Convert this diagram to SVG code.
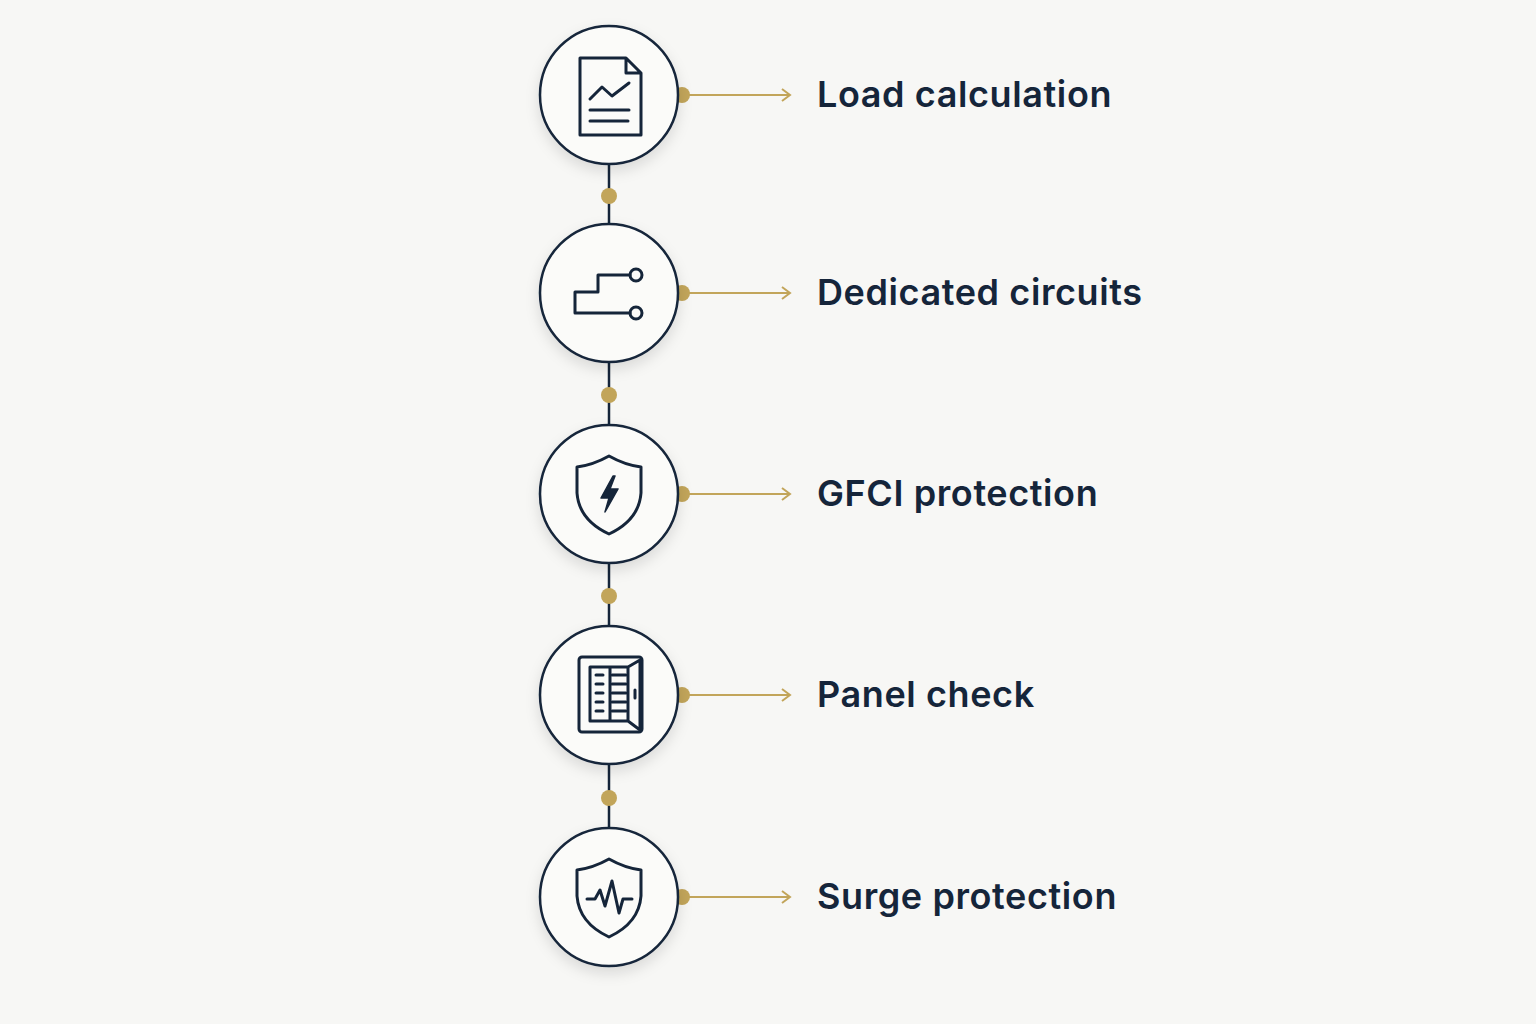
<svg xmlns="http://www.w3.org/2000/svg" width="1536" height="1024" viewBox="0 0 1536 1024">
<defs>
<filter id="sh" x="-30%" y="-30%" width="160%" height="170%"><feDropShadow dx="0" dy="6" stdDeviation="7" flood-color="#000" flood-opacity="0.12"/></filter>
<marker id="ar" markerWidth="12" markerHeight="14" refX="10" refY="7" orient="auto" markerUnits="userSpaceOnUse"><path d="M2,1 L10,7 L2,13" fill="none" stroke="#c2a55a" stroke-width="2"/></marker>
</defs>
<style>
.ring{fill:#fbfbf9;stroke:#15253a;stroke-width:2.5}
.ic{fill:none;stroke:#15253a;stroke-width:3;stroke-linejoin:round;stroke-linecap:round}
.vl{stroke:#15253a;stroke-width:2.5}
.dot{fill:#c2a55a}
.ar{stroke:#c2a55a;stroke-width:2;marker-end:url(#ar)}
.lb{font-family:Inter,"Liberation Sans",sans-serif;font-weight:600;font-size:36px;letter-spacing:0.6px;fill:#15253a}
</style>
<rect width="1536" height="1024" fill="#f7f7f5"/>
<g id="connectors">
<line class="vl" x1="609" y1="160" x2="609" y2="230"/>
<line class="vl" x1="609" y1="360" x2="609" y2="430"/>
<line class="vl" x1="609" y1="560" x2="609" y2="630"/>
<line class="vl" x1="609" y1="762" x2="609" y2="832"/>
<circle class="dot" cx="609" cy="196" r="8"/>
<circle class="dot" cx="609" cy="395" r="8"/>
<circle class="dot" cx="609" cy="596" r="8"/>
<circle class="dot" cx="609" cy="798" r="8"/>
<line class="ar" x1="682" y1="95" x2="790" y2="95"/>
<line class="ar" x1="682" y1="293" x2="790" y2="293"/>
<line class="ar" x1="682" y1="494" x2="790" y2="494"/>
<line class="ar" x1="682" y1="695" x2="790" y2="695"/>
<line class="ar" x1="682" y1="897" x2="790" y2="897"/>
<circle class="dot" cx="682" cy="95" r="8"/>
<circle class="dot" cx="682" cy="293" r="8"/>
<circle class="dot" cx="682" cy="494" r="8"/>
<circle class="dot" cx="682" cy="695" r="8"/>
<circle class="dot" cx="682" cy="897" r="8"/>
</g>
<g id="n1">
<circle class="ring" cx="609" cy="95" r="69" filter="url(#sh)"/>
<path class="ic" d="M580,58 H626 L641,73 V135 H580 Z M626,58 V73 H641"/>
<path class="ic" d="M590,99 L602,87 L612,96 L629,83"/>
<path class="ic" d="M590,110 H629 M590,121 H628"/>
<text class="lb" x="817" y="107">Load calculation</text>
</g>
<g id="n2">
<circle class="ring" cx="609" cy="293" r="69" filter="url(#sh)"/>
<path class="ic" d="M575,313 V292 H598 V275 H630 M575,313 H630"/>
<circle class="ic" cx="636" cy="275" r="6"/>
<circle class="ic" cx="636" cy="313" r="6"/>
<text class="lb" x="817" y="305">Dedicated circuits</text>
</g>
<g id="n3">
<circle class="ring" cx="609" cy="494" r="69" filter="url(#sh)"/>
<path class="ic" d="M609,456 Q593,465 577,467 V493 Q579,520 609,534 Q639,520 641,493 V467 Q625,465 609,456 Z"/>
<path d="M613,476 L601,498 H609 L605,512 L618,489 H610 L615,476 Z" fill="#15253a" stroke="#15253a" stroke-width="1.5" stroke-linejoin="round"/>
<text class="lb" x="817" y="506">GFCI protection</text>
</g>
<g id="n4">
<circle class="ring" cx="609" cy="695" r="69" filter="url(#sh)"/>
<rect class="ic" x="579" y="657" width="63" height="75" rx="3"/>
<path class="ic" d="M590,667 H628 V721 H590 Z M610,667 V721 M628,667 L640,660 V730 L628,721"/>
<path class="ic" d="M596,675 H603 M596,684 H603 M596,693 H603 M596,702 H603 M596,711 H603 M612,675 H626 M612,684 H626 M612,693 H626 M612,702 H626 M612,711 H626 M635,690 V698"/>
<text class="lb" x="817" y="707">Panel check</text>
</g>
<g id="n5">
<circle class="ring" cx="609" cy="897" r="69" filter="url(#sh)"/>
<path class="ic" d="M609,859 Q593,868 577,870 V896 Q579,923 609,937 Q639,923 641,896 V870 Q625,868 609,859 Z"/>
<path class="ic" d="M587,899 H595 L600,890 L605,906 L612,881 L619,913 L623,899 H632"/>
<text class="lb" x="817" y="909">Surge protection</text>
</g>
</svg>
